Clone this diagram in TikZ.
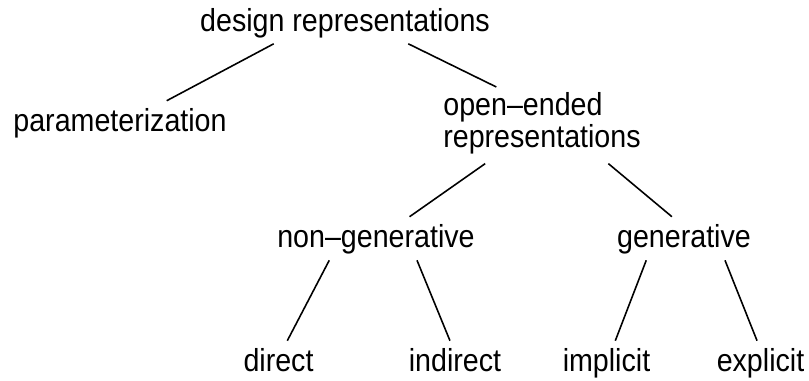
\documentclass[tikz,border=0pt]{standalone}
\usepackage{fontspec}
\setmainfont{Liberation Sans}[FakeStretch=0.9]
\usepackage{xcolor}
\usepackage{tikz}
\definecolor{ink}{HTML}{000000}
\tikzset{
  line/.style={draw=ink, line width=0.9pt},
  lbl/.style={text=ink, font=\fontsize{18.1pt}{16.5pt}\selectfont,
    inner xsep=0pt, inner ysep=0pt, text height=17.6pt, text depth=6.8pt},
  lbl2/.style={lbl, align=left, text height=34.1pt, text depth=9.1pt}
}

\begin{document}
\begin{tikzpicture}
  \useasboundingbox (0,0) rectangle (16.18,7.62);

  \node[lbl, anchor=base] (design) at (6.90,6.99) {design representations};
  \node[lbl, anchor=base] (param) at (2.40,4.98) {parameterization};
  \node[lbl2, anchor=north west] (open) at (8.86,5.88) {open--ended\\representations};

  \node[lbl, anchor=base] (nongen) at (7.52,2.66) {non--generative};
  \node[lbl, anchor=base] (gen) at (13.68,2.66) {generative};

  \node[lbl, anchor=base] (direct) at (5.57,0.18) {direct};
  \node[lbl, anchor=base] (indirect) at (9.10,0.18) {indirect};
  \node[lbl, anchor=base] (implicit) at (12.13,0.18) {implicit};
  \node[lbl, anchor=base] (explicit) at (15.21,0.18) {explicit};

  % tree edges
  \draw[line] (design.197) -- (param.25);
  \draw[line] (design.-19) -- (open.140);
  \draw[line] (open.214) -- (nongen.33);
  \draw[line] (open.330) -- (gen.119);
  \draw[line] (nongen.205) -- (direct.68);
  \draw[line] (nongen.332) -- (indirect.103);
  \draw[line] (gen.210) -- (implicit.68);
  \draw[line] (gen.332) -- (explicit.99);
\end{tikzpicture}
\end{document}
